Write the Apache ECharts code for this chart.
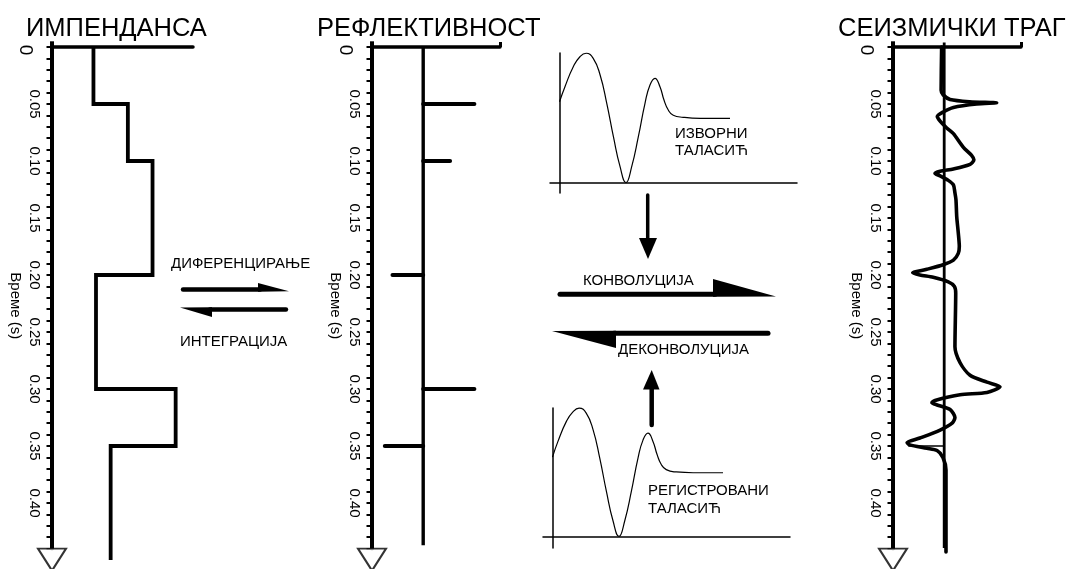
<!DOCTYPE html>
<html><head><meta charset="utf-8">
<script src="https://cdn.jsdelivr.net/npm/echarts@6/dist/echarts.min.js"></script>
<style>html,body{margin:0;padding:0;background:#fff}#c{width:1068px;height:569px}</style>
</head><body><div id="c"></div>
<script>
// ---------- data ----------
const timeMax = 0.44;
const layerTops = [0, 0.05, 0.10, 0.20, 0.30, 0.35];
const layerBottom = 0.45;
const impedance = [2.94, 5.38, 7.13, 3.12, 8.77, 4.16];

const reflectTimes = [0.05, 0.10, 0.20, 0.30, 0.35];
const reflectivity = [0.20, 0.105, -0.12, 0.20, -0.15];
const reflectEnd = 0.437;

const traceAmp = [-0.010,-0.012,-0.004,0.023,0.100,0.205,0.127,0.036,-0.004,-0.027,-0.016,0.010,0.036,0.075,0.107,0.116,0.101,0.036,-0.016,-0.036,-0.016,0.016,0.036,0.042,0.046,0.049,0.055,0.059,0.055,0.036,-0.004,-0.068,-0.123,-0.095,-0.043,0.016,0.040,0.045,0.042,0.062,0.101,0.167,0.218,0.167,0.062,-0.036,-0.048,-0.028,0.023,0.042,0.031,-0.016,-0.095,-0.145,-0.134,-0.067,-0.028,-0.005,0.007,0.007];
const traceTime = [0.000,0.038,0.042,0.046,0.048,0.049,0.050,0.053,0.057,0.061,0.065,0.071,0.076,0.088,0.095,0.099,0.103,0.107,0.109,0.111,0.113,0.117,0.121,0.128,0.134,0.149,0.163,0.175,0.181,0.187,0.191,0.195,0.198,0.200,0.202,0.206,0.210,0.216,0.263,0.277,0.288,0.294,0.298,0.303,0.305,0.310,0.312,0.314,0.318,0.325,0.330,0.336,0.343,0.347,0.349,0.352,0.354,0.360,0.371,0.443];
const traceCenterEnd = 0.4395;
const traceMark = {amp: -0.14, time: 0.35};

const waveletTime = [0,2.3,5.8,8.6,11.2,14.2,17.1,19.9,22.7,25.5,28.0,30.4,33.2,36.0,38.1,40.2,42.3,44.0,45.8,47.9,52.1,59.2,71.8];
const sourceWavelet = [0.624,0.74,0.894,0.971,0.998,0.959,0.83,0.612,0.354,0.123,0,0.123,0.354,0.612,0.753,0.805,0.74,0.637,0.56,0.52,0.504,0.496,0.496];
const recordedWavelet = [0.618,0.74,0.894,0.970,0.999,0.960,0.83,0.610,0.350,0.120,0,0.120,0.350,0.610,0.750,0.805,0.74,0.640,0.56,0.52,0.502,0.496,0.496];

// ---------- chart ----------
const FONT = '"Liberation Sans", Arial, sans-serif';
const chart = echarts.init(document.getElementById('c'), null, {renderer: 'canvas'});

function timeAxis(gi) {
  return {
    type: 'value', gridIndex: gi, inverse: true, min: 0, max: timeMax, interval: 0.05,
    position: 'left',
    name: 'Време (s)', nameLocation: 'middle', nameRotate: -90, nameGap: 29, nameMoveOverlap: false,
    nameTextStyle: {fontFamily: FONT, fontSize: 15, color: '#000', padding: [0, 0, 0, 16]},
    axisLine: {show: true, onZero: false, lineStyle: {color: '#000', width: 4}},
    axisTick: {show: true, length: 5.5, lineStyle: {color: '#000', width: 2}},
    minorTick: {show: true, splitNumber: 5, length: 5.5, lineStyle: {color: '#000', width: 2}},
    axisLabel: {
      rotate: -90, margin: 10, showMaxLabel: false, fontFamily: FONT, fontSize: 15, color: '#000',
      formatter: v => v === 0 ? '{z|0}' : v.toFixed(2),
      rich: {z: {fontSize: 19, fontFamily: FONT, color: '#000', padding: [7, 0, 0, 6]}}
    },
    splitLine: {show: false}
  };
}
function topAxis(gi, min, max, stub) {
  return {
    type: 'value', gridIndex: gi, position: 'top', min, max,
    axisLine: {show: true, onZero: false, lineStyle: {color: '#000', width: 3.5, cap: 'round'}},
    axisTick: stub ? {show: true, customValues: [max], length: 5, lineStyle: {color: '#000', width: 3}} : {show: false},
    axisLabel: {show: false}, splitLine: {show: false}
  };
}
function waveAxis(gi, min, max) {
  return {
    type: 'value', gridIndex: gi, min, max,
    axisLine: {show: true, onZero: true, lineStyle: {color: '#000', width: 1.5}},
    axisTick: {show: false}, axisLabel: {show: false}, splitLine: {show: false}
  };
}

// impedance step polyline
const impPts = [];
impedance.forEach((z, i) => {
  const bottom = i + 1 < layerTops.length ? layerTops[i + 1] : layerBottom;
  impPts.push([z, layerTops[i]], [z, bottom]);
});

const blackLine = (w) => ({color: '#000', width: w, join: 'miter', cap: 'butt'});
const series = [];
series.push({type: 'line', xAxisIndex: 0, yAxisIndex: 0, data: impPts, symbol: 'none', clip: false, lineStyle: blackLine(3.8), z: 5});
series.push({type: 'line', xAxisIndex: 1, yAxisIndex: 1, data: [[0, 0], [0, reflectEnd]], symbol: 'none', clip: false, lineStyle: blackLine(3.4), z: 5});
reflectTimes.forEach((t, i) => {
  series.push({type: 'line', xAxisIndex: 1, yAxisIndex: 1, data: [[0, t], [reflectivity[i], t]], symbol: 'none', clip: false, lineStyle: {color: '#000', width: 4, cap: 'round'}, z: 5});
});
series.push({type: 'line', xAxisIndex: 2, yAxisIndex: 2, data: [[0, -0.004], [0, traceCenterEnd]], symbol: 'none', clip: false, lineStyle: blackLine(2.8), z: 5});
series.push({type: 'line', xAxisIndex: 2, yAxisIndex: 2, data: [[traceMark.amp, traceMark.time], [0, traceMark.time]], symbol: 'none', clip: false, lineStyle: blackLine(1.5), z: 5});
series.push({type: 'line', xAxisIndex: 2, yAxisIndex: 2, data: traceAmp.map((a, i) => [a, traceTime[i]]), symbol: 'none', clip: false, smooth: 0.25, lineStyle: {color: '#000', width: 3.6, cap: 'round', join: 'round'}, z: 6});
series.push({type: 'line', xAxisIndex: 3, yAxisIndex: 3, data: waveletTime.map((x, i) => [x, sourceWavelet[i]]), symbol: 'none', clip: false, smooth: true, lineStyle: {color: '#000', width: 1.2}, z: 5});
series.push({type: 'line', xAxisIndex: 4, yAxisIndex: 4, data: waveletTime.map((x, i) => [x, recordedWavelet[i]]), symbol: 'none', clip: false, smooth: true, lineStyle: {color: '#000', width: 1.2}, z: 5});
// time-axis overhang above the top line and hollow arrowheads at the bottom
[[0, 0], [1, -0.2], [2, -0.2]].forEach(([gi, xv]) => {
  series.push({type: 'line', xAxisIndex: gi, yAxisIndex: gi, data: [[xv, 0], [xv, -0.005]], symbol: 'none', clip: false, silent: true, lineStyle: blackLine(4), z: 4});
  series.push({type: 'scatter', xAxisIndex: gi, yAxisIndex: gi, data: [[xv, timeMax]], symbol: 'triangle', symbolRotate: 180,
    symbolSize: [28, 22], symbolOffset: [0, 11], clip: false, silent: true,
    itemStyle: {color: '#fff', borderColor: '#000', borderWidth: 2}, z: 10});
});

const T = (text, x, y, size) => ({type: 'text', x, y, z: 100, style: {text, fill: '#000', font: size + 'px ' + FONT, textAlign: 'left', textVerticalAlign: 'middle'}});
const P = (points) => ({type: 'polygon', z: 100, shape: {points}, style: {fill: '#000'}});
const L = (x1, y1, x2, y2, w) => ({type: 'line', z: 100, shape: {x1, y1, x2, y2}, style: {stroke: '#000', lineWidth: w, lineCap: 'round'}});

const graphic = [
  T('ИМПЕНДАНСА', 26, 28.5, 25.5),
  T('РЕФЛЕКТИВНОСТ', 317, 28.5, 25.5),
  T('СЕИЗМИЧКИ ТРАГ', 838, 28.5, 25.5),
  T('ДИФЕРЕНЦИРАЊЕ', 171, 264, 15),
  T('ИНТЕГРАЦИЈА', 180, 342, 15),
  T('КОНВОЛУЦИЈА', 583, 280.5, 15),
  T('ДЕКОНВОЛУЦИЈА', 618, 350, 15),
  T('ИЗВОРНИ', 675, 134, 15),
  T('ТАЛАСИЋ', 675, 150.5, 15),
  T('РЕГИСТРОВАНИ', 648, 491, 15),
  T('ТАЛАСИЋ', 648, 509, 15),
  L(183, 289.5, 260, 289.5, 4.4), P([[258, 283], [289, 291.2], [258, 291.7]]),
  L(210, 309.5, 286, 309.5, 4.4), P([[180, 307.5], [212, 307.3], [212, 317]]),
  L(560, 294.2, 715, 294.2, 5), P([[713, 279], [776, 296.5], [713, 296.7]]),
  L(614, 333.2, 768, 333.2, 5), P([[552, 331], [616, 330.7], [616, 348]]),
  L(647.7, 195, 647.7, 240, 3.5), P([[639, 238], [657, 238], [648, 259]]),
  L(651.7, 388, 651.7, 425, 4.5), P([[643, 389.5], [659.5, 389.5], [651.7, 370]])
];

chart.setOption({
  animation: false,
  backgroundColor: '#fff',
  grid: [
    {left: 52, top: 47, width: 141, height: 501.6},
    {left: 372, top: 47, width: 128, height: 501.6},
    {left: 893, top: 47, width: 128, height: 501.6},
    {left: 550, top: 53, width: 247, height: 140},
    {left: 543, top: 408, width: 247, height: 140}
  ],
  xAxis: [
    topAxis(0, 0, 10, false),
    topAxis(1, -0.2, 0.3, true),
    topAxis(2, -0.2, 0.3, true),
    waveAxis(3, -4, 100),
    waveAxis(4, -4, 100)
  ],
  yAxis: [
    timeAxis(0), timeAxis(1), timeAxis(2),
    waveAxis(3, -0.08, 1),
    waveAxis(4, -0.09, 1)
  ],
  series,
  graphic
});
</script></body></html>
